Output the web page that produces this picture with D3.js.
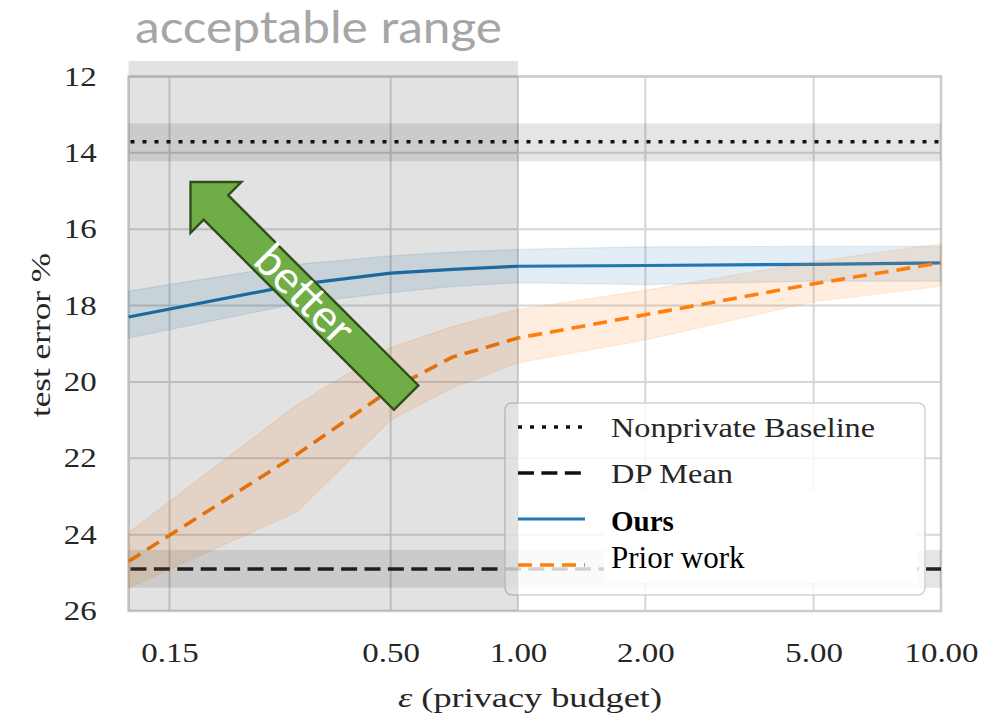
<!DOCTYPE html>
<html>
<head>
<meta charset="utf-8">
<script src="https://cdn.jsdelivr.net/npm/d3@7"></script>
<style>
  html, body { margin: 0; padding: 0; background: #fff; }
  svg { display: block; }
</style>
</head>
<body>
<svg id="chart" width="1007" height="721"></svg>
<script>
// Privacy budget values at which each method was evaluated
const eps = [0.12, 0.3, 0.5, 0.7, 1, 2, 5, 10];

// Ours: mean test error and its spread
const oursMean = [18.3, 17.45, 17.15, 17.05, 16.97, 16.95, 16.92, 16.88];
const oursLow  = [17.62, 16.92, 16.7, 16.6, 16.53, 16.46, 16.45, 16.45];
const oursHigh = [18.85, 17.95, 17.66, 17.5, 17.4, 17.45, 17.36, 17.36];

// Prior work: mean test error and its spread
const priorMean = [24.7, 21.9, 20.2, 19.35, 18.85, 18.24, 17.43, 16.88];
const priorLow  = [23.95, 20.6, 19.1, 18.55, 18.1, 17.6, 16.85, 16.38];
const priorHigh = [25.4, 23.4, 21.0, 20.15, 19.5, 18.9, 17.9, 17.49];

// Reference levels (value, band low, band high)
const nonprivate = [13.71, 13.23, 14.22];
const dpMean = [24.9, 24.4, 25.39];

// Acceptable privacy range on the x axis
const acceptableRange = [0.12, 1];

// Axis ticks
const xTicks = [0.15, 0.5, 1, 2, 5, 10];
const yTicks = [12, 14, 16, 18, 20, 22, 24, 26];

const legendLabels = ["Nonprivate Baseline", "DP Mean", "Ours", "Prior work"];

const BLUE = "#1f77b4", ORANGE = "#ff7f0e";
const SERIF = "'Liberation Serif', 'Times New Roman', serif";
const TEXT = "#262626";

const svg = d3.select("#chart");
const L = 128.5, R = 941, T = 76.5, B = 611;

const x = d3.scaleLog().domain([0.12, 10]).range([L, R]);
const y = d3.scaleLinear().domain([12, 26]).range([T, B]);

// grid
const grid = svg.append("g");
grid.selectAll("line.h").data(yTicks).join("line")
  .attr("x1", L).attr("x2", R)
  .attr("y1", d => y(d)).attr("y2", d => y(d))
  .attr("stroke", "#d6d6d6").attr("stroke-width", 2);
grid.selectAll("line.v").data(xTicks).join("line")
  .attr("x1", d => x(d)).attr("x2", d => x(d))
  .attr("y1", T).attr("y2", B)
  .attr("stroke", "#d6d6d6").attr("stroke-width", 2);
svg.append("rect")
  .attr("x", L).attr("y", T).attr("width", R - L).attr("height", B - T)
  .attr("fill", "none").attr("stroke", "#cccccc").attr("stroke-width", 2.5);

// reference bands and lines
function refLevel(vals, dash, color) {
  svg.append("rect")
    .attr("x", L).attr("width", R - L)
    .attr("y", y(vals[1])).attr("height", y(vals[2]) - y(vals[1]))
    .attr("fill", "#000").attr("fill-opacity", 0.1);
  svg.append("line")
    .attr("x1", L + 2).attr("x2", R)
    .attr("y1", y(vals[0])).attr("y2", y(vals[0]))
    .attr("stroke", color).attr("stroke-width", 3.6)
    .attr("stroke-dasharray", dash);
}
refLevel(nonprivate, "4,8", "#111");
refLevel(dpMean, "16,7.4", "#222");

// method bands and lines
function series(mean, lo, hi, color, dash, width) {
  const area = d3.area()
    .x((d, i) => x(eps[i]))
    .y0((d, i) => y(lo[i]))
    .y1((d, i) => y(hi[i]));
  svg.append("path").datum(mean).attr("d", area)
    .attr("fill", color).attr("fill-opacity", 0.13)
    .attr("stroke", color).attr("stroke-opacity", 0.12).attr("stroke-width", 1.2);
  const line = d3.line().x((d, i) => x(eps[i])).y(d => y(d));
  svg.append("path").datum(mean).attr("d", line)
    .attr("fill", "none").attr("stroke", color)
    .attr("stroke-width", width)
    .attr("stroke-dasharray", dash)
    .attr("stroke-linejoin", "round");
}
series(oursMean, oursLow, oursHigh, BLUE, null, 3.2);
series(priorMean, priorLow, priorHigh, ORANGE, "14,8", 3.6);

// legend
const lg = svg.append("g");
lg.append("rect")
  .attr("x", 505).attr("y", 403).attr("width", 420).attr("height", 192)
  .attr("rx", 7)
  .attr("fill", "#fff").attr("fill-opacity", 0.8)
  .attr("stroke", "#d2d2d2").attr("stroke-width", 1.5);
const sampleY = [427, 473, 519, 565];
const sampleStyle = [
  { c: "#111", dash: "4,8", w: 3.6 },
  { c: "#111", dash: "16,7.4", w: 3.6 },
  { c: BLUE, dash: null, w: 3.2 },
  { c: ORANGE, dash: "14,8", w: 3.6 }
];
sampleStyle.forEach((s, i) => {
  lg.append("line")
    .attr("x1", 518).attr("x2", 585)
    .attr("y1", sampleY[i]).attr("y2", sampleY[i])
    .attr("stroke", s.c).attr("stroke-width", s.w)
    .attr("stroke-dasharray", s.dash);
});
lg.append("text").attr("x", 611).attr("y", 437)
  .attr("font-family", SERIF).attr("font-size", 28).attr("fill", TEXT)
  .attr("textLength", 264).attr("lengthAdjust", "spacingAndGlyphs")
  .text(legendLabels[0]);
lg.append("text").attr("x", 611).attr("y", 483)
  .attr("font-family", SERIF).attr("font-size", 28).attr("fill", TEXT)
  .attr("textLength", 122).attr("lengthAdjust", "spacingAndGlyphs")
  .text(legendLabels[1]);
// label panel for the two method entries
lg.append("rect")
  .attr("x", 604).attr("y", 491).attr("width", 313).attr("height", 92)
  .attr("fill", "#fff");
lg.append("text").attr("x", 611).attr("y", 531)
  .attr("font-family", SERIF).attr("font-size", 29).attr("font-weight", "bold")
  .attr("fill", "#000")
  .text(legendLabels[2]);
lg.append("text").attr("x", 611).attr("y", 568)
  .attr("font-family", SERIF).attr("font-size", 31).attr("fill", "#000")
  .text(legendLabels[3]);

// shaded acceptable range
svg.append("rect")
  .attr("x", x(acceptableRange[0])).attr("y", 61)
  .attr("width", x(acceptableRange[1]) - x(acceptableRange[0]))
  .attr("height", B - 61)
  .attr("fill", "#000").attr("fill-opacity", 0.113);

svg.append("text")
  .attr("x", 135).attr("y", 43)
  .attr("font-family", "Lato, 'Open Sans', sans-serif").attr("font-size", 44)
  .attr("fill", "#a6a6a6")
  .attr("textLength", 367).attr("lengthAdjust", "spacingAndGlyphs")
  .text("acceptable range");

// "better" arrow
const arrow = svg.append("g").attr("transform", "translate(190.5,182) rotate(45)");
arrow.append("path")
  .attr("d", "M0,0 L36,-36 L36,-17.3 L305,-17.3 L305,17.3 L36,17.3 L36,36 Z")
  .attr("fill", "#70ad47").attr("stroke", "#2e5018").attr("stroke-width", 2.4)
  .attr("stroke-linejoin", "miter");
arrow.append("text")
  .attr("x", 160).attr("y", 14)
  .attr("text-anchor", "middle")
  .attr("font-family", "Lato, 'Open Sans', sans-serif").attr("font-size", 45)
  .attr("fill", "#fff")
  .text("better");

// axes
const xAxis = svg.append("g").attr("transform", `translate(0,${B})`)
  .call(d3.axisBottom(x).tickValues(xTicks).tickFormat(d3.format(".2f"))
    .tickSize(0).tickPadding(32));
const yAxis = svg.append("g").attr("transform", `translate(${L},0)`)
  .call(d3.axisLeft(y).tickValues(yTicks).tickFormat(d3.format("d"))
    .tickSize(0).tickPadding(26));
[xAxis, yAxis].forEach(ax => {
  ax.select(".domain").remove();
  ax.selectAll("text")
    .attr("font-family", SERIF).attr("font-size", 27).attr("fill", TEXT)
    .attr("transform", "scale(1.22,1)");
});

svg.append("text")
  .attr("x", 530).attr("y", 707)
  .attr("text-anchor", "middle")
  .attr("font-family", SERIF).attr("font-size", 28).attr("fill", TEXT)
  .attr("textLength", 264).attr("lengthAdjust", "spacingAndGlyphs")
  .html('<tspan font-style="italic">ε</tspan> (privacy budget)');

svg.append("text")
  .attr("transform", "translate(50,335) rotate(-90)")
  .attr("text-anchor", "middle")
  .attr("font-family", SERIF).attr("font-size", 28).attr("fill", TEXT)
  .attr("textLength", 164).attr("lengthAdjust", "spacingAndGlyphs")
  .text("test error %");
</script>
</body>
</html>
